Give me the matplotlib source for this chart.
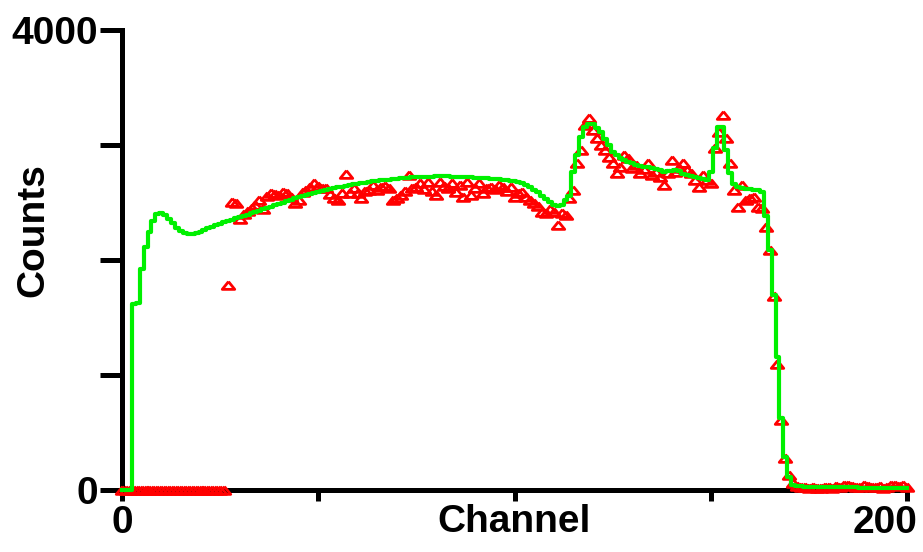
import numpy as np
import matplotlib.pyplot as plt
import matplotlib.transforms as mtransforms

plt.rcParams['font.family'] = ['Liberation Sans', 'DejaVu Sans']

# Conteos medidos por canal (0..200)
counts_measured = [
    0, 0, 0, 0, 0, 0, 0, 0, 0, 0,
    0, 0, 0, 0, 0, 0, 0, 0, 0, 0,
    0, 0, 0, 0, 0, 0, 0,
    1780, 2505, 2495,
    2360, 2400, 2430, 2450, 2480, 2520, 2440, 2560, 2580, 2575,
    2565, 2590, 2580, 2550, 2495, 2520, 2595, 2610, 2637, 2667,
    2645, 2630, 2625, 2570, 2540, 2520, 2580, 2750, 2580, 2625,
    2580, 2540, 2600, 2610, 2650, 2610, 2637, 2640, 2623, 2520,
    2540, 2565, 2600, 2740, 2625, 2637, 2667, 2620, 2680, 2600,
    2565, 2680, 2640, 2623, 2667, 2595, 2652, 2550, 2680, 2565,
    2630, 2667, 2580, 2623, 2637, 2620, 2652, 2637, 2600, 2637,
    2550, 2580, 2595, 2550, 2520, 2493, 2470, 2420, 2406, 2440,
    2420, 2305, 2406, 2390, 2535, 2610, 2840, 2960, 3175, 3235,
    3130, 3060, 3000, 2955, 2900, 2840, 2760, 2811, 2913, 2884,
    2797, 2826, 2754, 2790, 2840, 2740, 2768, 2720, 2652, 2760,
    2870, 2768, 2800, 2840, 2782, 2754, 2700, 2637, 2740, 2700,
    2667, 2971, 3116, 3260, 3058, 2840, 2610, 2463, 2652, 2520,
    2535, 2550, 2463, 2450, 2290, 2087, 1690, 1100, 610, 280,
    130, 60, 35, 30, 25, 20, 25, 15, 20, 30,
    25, 20, 35, 30, 40, 45, 35, 25, 30, 40,
    35, 30, 25, 35, 20, 30, 40, 45, 35, 40,
    25,
]

# Curva simulada (ajuste) por canal
counts_fit = [
    0, 0, 0, 1620, 1630, 1920, 2110, 2240, 2340, 2400,
    2410, 2390, 2360, 2320, 2280, 2250, 2235, 2228, 2226, 2232,
    2245, 2260, 2275, 2290, 2304, 2316, 2328, 2340, 2352, 2363,
    2374, 2384, 2394, 2405, 2416, 2428, 2440, 2452, 2464, 2476,
    2488, 2500, 2512, 2524, 2536, 2548, 2557, 2566, 2575, 2584,
    2593, 2602, 2611, 2619, 2626, 2633, 2639, 2645, 2651, 2657,
    2663, 2668, 2673, 2678, 2683, 2688, 2692, 2696, 2700, 2704,
    2708, 2712, 2715, 2717, 2719, 2721, 2723, 2724, 2725, 2726,
    2727, 2727, 2727, 2727, 2726, 2725, 2724, 2723, 2721, 2719,
    2717, 2715, 2713, 2711, 2708, 2705, 2702, 2698, 2694, 2689,
    2683, 2676, 2667, 2650, 2632, 2612, 2588, 2560, 2530, 2503,
    2482, 2470, 2480, 2520, 2560, 2765, 2913, 3070, 3157, 3180,
    3183, 3150, 3113, 3050, 3000, 2940, 2910, 2887, 2870, 2855,
    2840, 2826, 2820, 2812, 2805, 2800, 2790, 2780, 2765, 2770,
    2778, 2782, 2770, 2750, 2740, 2730, 2720, 2713, 2705, 2696,
    2765, 2974, 3157, 3157, 2957, 2757, 2660, 2635, 2625, 2620,
    2617, 2612, 2605, 2590, 2380, 2087, 1696, 1157, 626, 287,
    113, 43, 35, 32, 30, 30, 30, 30, 29, 28,
    28, 27, 27, 26, 25, 25, 24, 22, 21, 20,
    20, 19, 19, 18, 18, 17, 17, 17, 16, 16,
    16,
]

channels = np.arange(len(counts_measured))

# triángulo achatado (más ancho que alto)
flat_triangle = [(0, 0.62), (-1, -0.62), (1, -0.62), (0, 0.62)]

fig = plt.figure(figsize=(9.23, 5.52), dpi=100)
ax = fig.add_axes([122 / 923, 62 / 552, 785 / 923, 460 / 552])

ax.plot(channels, counts_measured, linestyle='none', marker=flat_triangle,
        markersize=9, markerfacecolor='none', markeredgecolor='#ff0000',
        markeredgewidth=2.0, clip_on=False, zorder=3)
ax.plot(channels, counts_fit, color='#00f000', linewidth=3.0,
        drawstyle='steps-mid', clip_on=False, zorder=4)

ax.set_xlim(0, 200)
ax.set_ylim(0, 4000)

for side in ('top', 'right'):
    ax.spines[side].set_visible(False)
for side in ('left', 'bottom'):
    ax.spines[side].set_linewidth(3.6)

ax.set_xticks([0, 50, 100, 150, 200], ['0', '', '', '', '200'])
ax.set_yticks([0, 1000, 2000, 3000, 4000], ['0', '', '', '', '4000'])
ax.tick_params(axis='y', length=16, width=3.6, pad=1, labelsize=28)
ax.tick_params(axis='x', length=8, width=3.6, pad=3, labelsize=28)
for lab in ax.get_xticklabels() + ax.get_yticklabels():
    lab.set_fontweight('bold')

# la etiqueta "200" se ajusta al borde derecho
lab200 = ax.get_xticklabels()[-1]
lab200.set_horizontalalignment('right')
lab200.set_transform(lab200.get_transform() +
                     mtransforms.ScaledTranslation(0.11, 0, fig.dpi_scale_trans))

ax.set_xlabel('Channel', fontsize=28, fontweight='bold')
ax.set_ylabel('Counts', fontsize=28, fontweight='bold')
ax.xaxis.set_label_coords(0.5, -0.03)
ax.yaxis.set_label_coords(-0.09, 0.565)

fig.savefig('out.png', dpi=100)
